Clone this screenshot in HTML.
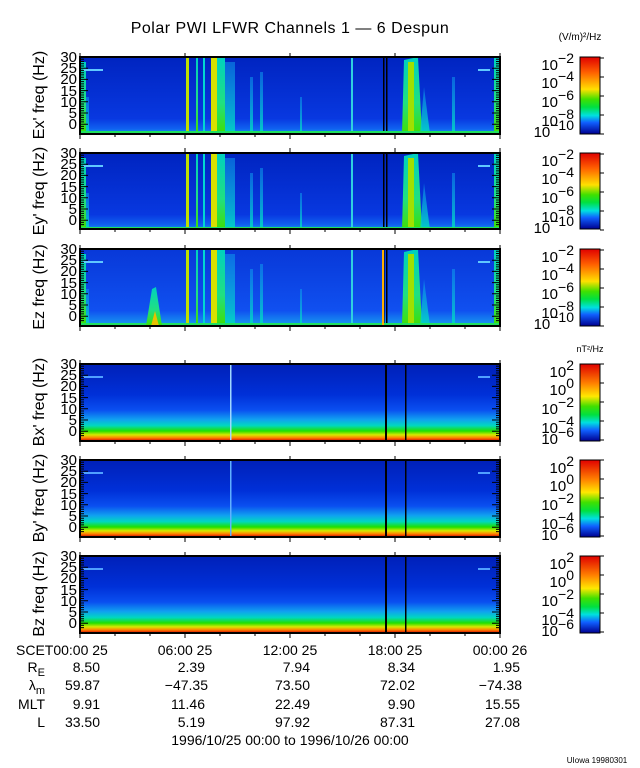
<!DOCTYPE html>
<html><head><meta charset="utf-8"><style>
html,body{margin:0;padding:0;background:#fff;}
svg{display:block;font-family:"Liberation Sans",sans-serif;}
</style></head><body>
<svg width="640" height="768" viewBox="0 0 640 768" xmlns="http://www.w3.org/2000/svg">
<defs>
<linearGradient id="cbE" x1="0" y1="0" x2="0" y2="1">
<stop offset="0" stop-color="#e00000"/><stop offset="0.2" stop-color="#ff6000"/><stop offset="0.42" stop-color="#ffe000"/><stop offset="0.55" stop-color="#40e000"/><stop offset="0.65" stop-color="#00e040"/><stop offset="0.76" stop-color="#00e0e0"/><stop offset="0.85" stop-color="#1060ff"/><stop offset="1" stop-color="#000090"/>
</linearGradient>
<linearGradient id="cbB" x1="0" y1="0" x2="0" y2="1">
<stop offset="0" stop-color="#e00000"/><stop offset="0.25" stop-color="#ff8000"/><stop offset="0.42" stop-color="#ffe800"/><stop offset="0.55" stop-color="#40e000"/><stop offset="0.66" stop-color="#00e040"/><stop offset="0.76" stop-color="#00e0e0"/><stop offset="0.86" stop-color="#1060ff"/><stop offset="1" stop-color="#000090"/>
</linearGradient>
<linearGradient id="bg" x1="0" y1="0" x2="0" y2="1">
<stop offset="0" stop-color="#0020b8"/><stop offset="0.4" stop-color="#0030d8"/><stop offset="0.6" stop-color="#0a50f0"/><stop offset="0.72" stop-color="#10a0f0"/><stop offset="0.8" stop-color="#00d8c0"/><stop offset="0.87" stop-color="#20e000"/><stop offset="0.92" stop-color="#d8e800"/><stop offset="0.96" stop-color="#ff8000"/><stop offset="1" stop-color="#d00000"/>
</linearGradient>
<linearGradient id="eb" x1="0" y1="0" x2="0" y2="1">
<stop offset="0" stop-color="#0024c0"/><stop offset="0.8" stop-color="#0838e0"/><stop offset="0.93" stop-color="#1060f0"/><stop offset="1" stop-color="#10a0f0"/>
</linearGradient>
<linearGradient id="ebz" x1="0" y1="0" x2="0" y2="1">
<stop offset="0" stop-color="#0838d8"/><stop offset="0.8" stop-color="#1050f0"/><stop offset="1" stop-color="#18a0f0"/>
</linearGradient>
<linearGradient id="band" x1="0" y1="0" x2="0" y2="1">
<stop offset="0" stop-color="#00d0c0"/><stop offset="0.6" stop-color="#20e080"/><stop offset="1" stop-color="#40e000"/>
</linearGradient>
<linearGradient id="bandF" x1="0" y1="0" x2="0" y2="1">
<stop offset="0" stop-color="#10a0f0" stop-opacity="0.5"/><stop offset="1" stop-color="#00d8c0" stop-opacity="0.9"/>
</linearGradient>
<g id="ebands">
<rect x="0" y="5" width="6" height="72" fill="url(#band)"/>
<rect x="6" y="40" width="3" height="37" fill="url(#bandF)"/>
<rect x="3" y="12" width="20" height="2" fill="#60c8ff"/>
<rect x="398" y="12" width="12" height="2" fill="#60c8ff"/>
<rect x="106" y="0" width="3" height="77" fill="#c0e000"/>
<rect x="116" y="0" width="2" height="77" fill="url(#band)"/>
<rect x="123" y="0" width="2" height="77" fill="#00d8d0"/>
<rect x="131" y="0" width="6" height="77" fill="#d8e000"/>
<rect x="137" y="0" width="8" height="77" fill="url(#band)"/>
<rect x="145" y="5" width="10" height="72" fill="url(#bandF)"/>
<rect x="170" y="20" width="3" height="57" fill="url(#bandF)"/>
<rect x="180" y="15" width="3" height="62" fill="url(#bandF)"/>
<rect x="220" y="40" width="2" height="37" fill="url(#bandF)"/>
<rect x="271" y="0" width="2" height="77" fill="#30d0e0"/>
<polygon points="322,77 324,3 338,0 342,77" fill="url(#band)"/>
<rect x="328" y="5" width="6" height="72" fill="#a0e000"/>
<polygon points="340,77 344,30 350,77" fill="url(#bandF)"/>
<rect x="372" y="20" width="3" height="57" fill="url(#bandF)"/>
<rect x="414" y="0" width="6" height="77" fill="url(#band)"/>
<rect x="303" y="0" width="1.5" height="77" fill="#000"/>
<rect x="306" y="0" width="1.5" height="77" fill="#000"/>
<rect x="0" y="74" width="420" height="3" fill="#20e060"/>
</g>
<g id="epanel">
<rect x="0" y="0" width="420" height="77" fill="url(#eb)"/>
<use href="#ebands"/>
</g>
<g id="bpanel">
<rect x="0" y="0" width="420" height="77" fill="url(#bg)"/>
<rect x="3" y="12" width="20" height="2" fill="#50a0ff"/>
<rect x="398" y="12" width="12" height="2" fill="#50a0ff"/>
<rect x="305" y="0" width="2" height="77" fill="#000"/>
<rect x="325" y="0" width="1.5" height="77" fill="#000"/>
</g>
<g id="yt" stroke="#000" stroke-width="1">
<path d="M0 62h8M0 73.2h8M0 84.4h8M0 95.6h8M0 106.8h8M0 118h8M0 129.2h8M0 64.2h4M0 66.5h4M0 68.7h4M0 71h4M0 75.4h4M0 77.7h4M0 79.9h4M0 82.2h4M0 86.6h4M0 88.9h4M0 91.1h4M0 93.4h4M0 97.8h4M0 100h4M0 102.3h4M0 104.5h4M0 109h4M0 111.2h4M0 113.5h4M0 115.7h4M0 120.2h4M0 122.4h4M0 124.7h4M0 126.9h4M0 131.4h4M0 133.6h4"/>
</g>
<g id="ylab" font-size="15" text-anchor="end" fill="#000">
<text x="77" y="67">30</text><text x="77" y="78">25</text><text x="77" y="89">20</text><text x="77" y="101">15</text><text x="77" y="112">10</text><text x="77" y="123">5</text><text x="77" y="134">0</text>
</g>
<g id="xt" stroke="#000" stroke-width="1">
<path d="M80 134v5M185 134v5M290 134v5M395 134v5M500 134v5M80 57v-4M185 57v-4M290 57v-4M395 57v-4M500 57v-4M115 134v3M150 134v3M220 134v3M255 134v3M325 134v3M360 134v3M430 134v3M465 134v3"/>
</g>
<g id="cbt" stroke="#000" stroke-width="1"><path d="M600 58h4M600 77h4M600 96h4M600 115h4M600 134h4"/></g>
</defs>

<text x="290" y="33" font-size="16" text-anchor="middle" letter-spacing="0.5">Polar PWI LFWR Channels 1 — 6 Despun</text>
<text x="580" y="40" font-size="10" text-anchor="middle">(V/m)²/Hz</text>
<text x="590" y="352" font-size="9" text-anchor="middle">nT²/Hz</text>

<g transform="translate(80,57)"><use href="#epanel"/></g>
<g transform="translate(80,153)"><use href="#epanel"/></g>
<g transform="translate(80,249)"><rect x="0" y="0" width="420" height="77" fill="url(#ebz)"/><use href="#ebands"/><polygon points="66,77 72,40 76,38 82,77" fill="url(#band)"/><polygon points="71,77 75,62 79,77" fill="#e8c000"/><rect x="302" y="0" width="2" height="77" fill="#ffb000"/></g>
<g transform="translate(80,364)"><use href="#bpanel"/><rect x="150" y="0" width="1.5" height="77" fill="#a0d8ff"/></g>
<g transform="translate(80,460)"><use href="#bpanel"/><rect x="150" y="0" width="1.5" height="77" fill="#60b0ff"/></g>
<g transform="translate(80,556)"><use href="#bpanel"/></g>

<g fill="none" stroke="#000" stroke-width="2">
<rect x="80" y="57" width="420" height="77"/>
<rect x="80" y="153" width="420" height="76"/>
<rect x="80" y="249" width="420" height="77"/>
<rect x="80" y="364" width="420" height="77"/>
<rect x="80" y="460" width="420" height="77"/>
<rect x="80" y="556" width="420" height="77"/>
</g>

<g transform="translate(80,-5)"><use href="#yt"/></g><g transform="translate(500,-5) scale(-1,1)"><use href="#yt"/></g><g transform="translate(0,-5)"><use href="#ylab"/></g><use href="#xt"/>
<g transform="translate(80,91)"><use href="#yt"/></g><g transform="translate(500,91) scale(-1,1)"><use href="#yt"/></g><g transform="translate(0,91)"><use href="#ylab"/></g><g transform="translate(0,95)"><use href="#xt"/></g>
<g transform="translate(80,187)"><use href="#yt"/></g><g transform="translate(500,187) scale(-1,1)"><use href="#yt"/></g><g transform="translate(0,187)"><use href="#ylab"/></g><g transform="translate(0,192)"><use href="#xt"/></g>
<g transform="translate(80,302)"><use href="#yt"/></g><g transform="translate(500,302) scale(-1,1)"><use href="#yt"/></g><g transform="translate(0,302)"><use href="#ylab"/></g><g transform="translate(0,307)"><use href="#xt"/></g>
<g transform="translate(80,398)"><use href="#yt"/></g><g transform="translate(500,398) scale(-1,1)"><use href="#yt"/></g><g transform="translate(0,398)"><use href="#ylab"/></g><g transform="translate(0,403)"><use href="#xt"/></g>
<g transform="translate(80,494)"><use href="#yt"/></g><g transform="translate(500,494) scale(-1,1)"><use href="#yt"/></g><g transform="translate(0,494)"><use href="#ylab"/></g><g transform="translate(0,499)"><use href="#xt"/></g>

<g font-size="16" text-anchor="middle">
<text transform="translate(44,95) rotate(-90)">Ex' freq (Hz)</text>
<text transform="translate(44,191) rotate(-90)">Ey' freq (Hz)</text>
<text transform="translate(44,287) rotate(-90)">Ez freq (Hz)</text>
<text transform="translate(44,402) rotate(-90)">Bx' freq (Hz)</text>
<text transform="translate(44,498) rotate(-90)">By' freq (Hz)</text>
<text transform="translate(44,594) rotate(-90)">Bz freq (Hz)</text>
</g>

<g stroke="#000" stroke-width="1">
<rect x="580" y="57" width="20" height="77" fill="url(#cbE)"/>
<rect x="580" y="153" width="20" height="76" fill="url(#cbE)"/>
<rect x="580" y="249" width="20" height="77" fill="url(#cbE)"/>
<rect x="580" y="364" width="20" height="77" fill="url(#cbB)"/>
<rect x="580" y="460" width="20" height="77" fill="url(#cbB)"/>
<rect x="580" y="556" width="20" height="77" fill="url(#cbB)"/>
</g>
<use href="#cbt"/><g transform="translate(0,96)"><use href="#cbt"/></g><g transform="translate(0,192)"><use href="#cbt"/></g>
<g transform="translate(0,306)"><use href="#cbt"/></g><g transform="translate(0,402)"><use href="#cbt"/></g><g transform="translate(0,498)"><use href="#cbt"/></g>
<g font-size="15" text-anchor="end">
<g id="ecl"><text x="574" y="70">10<tspan dy="-7" font-size="14">−2</tspan></text><text x="574" y="88">10<tspan dy="-7" font-size="14">−4</tspan></text><text x="574" y="107">10<tspan dy="-7" font-size="14">−6</tspan></text><text x="574" y="126">10<tspan dy="-7" font-size="14">−8</tspan></text><text x="574" y="137">10<tspan dy="-7" font-size="14">−10</tspan></text></g>
<g transform="translate(0,96)"><use href="#ecl"/></g>
<g transform="translate(0,192)"><use href="#ecl"/></g>
<g id="bcl"><text x="574" y="377">10<tspan dy="-7" font-size="14">2</tspan></text><text x="574" y="395">10<tspan dy="-7" font-size="14">0</tspan></text><text x="574" y="414">10<tspan dy="-7" font-size="14">−2</tspan></text><text x="574" y="433">10<tspan dy="-7" font-size="14">−4</tspan></text><text x="574" y="444">10<tspan dy="-7" font-size="14">−6</tspan></text></g>
<g transform="translate(0,96)"><use href="#bcl"/></g>
<g transform="translate(0,192)"><use href="#bcl"/></g>
</g>

<g font-size="14">
<text x="16" y="655">SCET00:00 25</text>
<text x="185" y="655" text-anchor="middle">06:00 25</text>
<text x="290" y="655" text-anchor="middle">12:00 25</text>
<text x="395" y="655" text-anchor="middle">18:00 25</text>
<text x="500" y="655" text-anchor="middle">00:00 26</text>
<text x="45" y="672" text-anchor="end">R<tspan dy="4" font-size="11">E</tspan></text>
<text x="45" y="690" text-anchor="end">λ<tspan dy="4" font-size="11">m</tspan></text>
<text x="45" y="709" text-anchor="end">MLT</text>
<text x="45" y="727" text-anchor="end">L</text>
<g text-anchor="end">
<text x="100" y="672">8.50</text><text x="100" y="690">59.87</text><text x="100" y="709">9.91</text><text x="100" y="727">33.50</text>
<text x="205" y="672">2.39</text><text x="208" y="690">−47.35</text><text x="205" y="709">11.46</text><text x="205" y="727">5.19</text>
<text x="310" y="672">7.94</text><text x="310" y="690">73.50</text><text x="310" y="709">22.49</text><text x="310" y="727">97.92</text>
<text x="415" y="672">8.34</text><text x="415" y="690">72.02</text><text x="415" y="709">9.90</text><text x="415" y="727">87.31</text>
<text x="520" y="672">1.95</text><text x="522" y="690">−74.38</text><text x="520" y="709">15.55</text><text x="520" y="727">27.08</text>
</g>
<text x="290" y="745" text-anchor="middle">1996/10/25 00:00 to 1996/10/26 00:00</text>
</g>
<text x="597" y="763" font-size="8" text-anchor="middle">UIowa 19980301</text>
</svg>
</body></html>
